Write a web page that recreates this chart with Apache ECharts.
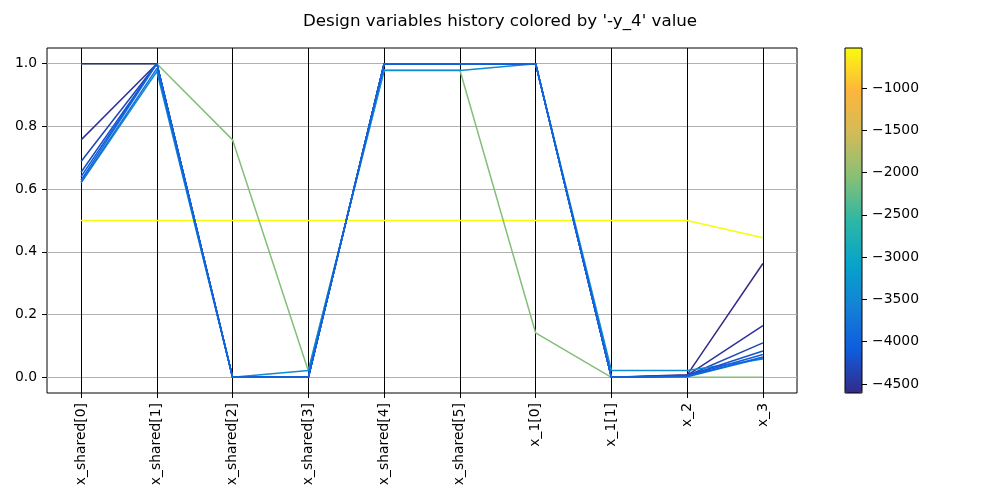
<!DOCTYPE html>
<html>
<head>
<meta charset="utf-8">
<title>Design variables history</title>
<script src="https://cdn.jsdelivr.net/npm/echarts@6/dist/echarts.min.js"></script>
<style>
  html, body { margin: 0; padding: 0; background: #fff; }
  #chart { width: 1000px; height: 500px; }
</style>
</head>
<body>
<div id="chart"></div>
<script>
// design variables (parallel axes)
var variables = ['x_shared[0]', 'x_shared[1]', 'x_shared[2]', 'x_shared[3]', 'x_shared[4]',
  'x_shared[5]', 'x_1[0]', 'x_1[1]', 'x_2', 'x_3'];

// history, one array per iteration
var iter0 = [0.5, 0.5, 0.5, 0.5, 0.5, 0.5, 0.5, 0.5, 0.5, 0.445];
var iter1 = [1.0, 1.0, 0.757, 0.02, 0.98, 0.98, 0.1415, 0.0, 0.0, 0.0];
var iter2 = [1.0, 1.0, 0.0, 0.0, 1.0, 1.0, 1.0, 0.0, 0.008, 0.363];
var iter3 = [0.757, 1.0, 0.0, 0.0, 1.0, 1.0, 1.0, 0.0, 0.006, 0.165];
var iter4 = [0.688, 1.0, 0.0, 0.0, 1.0, 1.0, 1.0, 0.0, 0.005, 0.110];
var iter5 = [0.62, 0.975, 0.0, 0.022, 0.978, 0.978, 1.0, 0.022, 0.022, 0.058];
var iter6 = [0.654, 1.0, 0.0, 0.0, 1.0, 1.0, 1.0, 0.0, 0.005, 0.084];
var iter7 = [0.622, 0.985, 0.0, 0.0, 1.0, 1.0, 1.0, 0.0, 0.002, 0.062];
var iter8 = [0.64, 1.0, 0.0, 0.0, 1.0, 1.0, 1.0, 0.0, 0.004, 0.073];
var iter9 = [0.629, 1.0, 0.0, 0.0, 1.0, 1.0, 1.0, 0.0, 0.003, 0.065];
var iterations = [iter0, iter1, iter2, iter3, iter4, iter5, iter6, iter7, iter8, iter9];

// '-y_4' value of each iteration
var objective = [-527, -2080, -4606, -4500, -4330, -3450, -4200, -3800, -4080, -3990];

var yTicks = [0, 0.2, 0.4, 0.6, 0.8, 1.0];
var cbarTicks = [-4500, -4000, -3500, -3000, -2500, -2000, -1500, -1000];
var cbarMin = -4606, cbarMax = -527;

// parula-like colormap
var cmap = ['#352a87', '#0f5cdd', '#1481d6', '#06a4ca', '#2eb7a4', '#87bf77', '#d1bb59', '#fdb53c', '#f9fb0e'];

var chart = echarts.init(document.getElementById('chart'));

var xIdx = variables.map(function (v, i) { return i; });

var series = iterations.map(function (vals, k) {
  var t = (objective[k] - cbarMin) / (cbarMax - cbarMin);
  return {
    type: 'line',
    xAxisIndex: 0,
    yAxisIndex: 0,
    symbol: 'none',
    silent: true,
    lineStyle: { width: 1.5, color: echarts.color.lerp(t, cmap) },
    data: vals.map(function (v, i) { return [i, v]; })
  };
});
// dummy series for the colorbar
series.push({ type: 'scatter', xAxisIndex: 1, yAxisIndex: 1, data: [] });

var option = {
  animation: false,
  backgroundColor: '#fff',
  textStyle: { fontFamily: 'DejaVu Sans' },
  title: {
    text: "Design variables history colored by '-y_4' value",
    left: 'center',
    top: 8,
    textStyle: { fontFamily: 'DejaVu Sans', fontSize: 16.7, fontWeight: 'normal', color: '#000' }
  },
  grid: [
    { left: 47, top: 48, width: 750, height: 345, show: true, borderColor: '#000', borderWidth: 1, backgroundColor: 'transparent' },
    { left: 845, top: 48, width: 17, height: 345, show: true, borderColor: '#000', borderWidth: 1, backgroundColor: 'transparent', z: 10 }
  ],
  xAxis: [{
    type: 'value',
    gridIndex: 0,
    min: -0.45,
    max: xIdx.length - 1 + 0.45,
    axisLine: { show: false, onZero: false },
    axisTick: { show: true, customValues: xIdx, length: 5, lineStyle: { color: '#000' } },
    axisLabel: {
      customValues: xIdx,
      rotate: 90,
      margin: 10,
      fontSize: 13.9,
      color: '#000',
      formatter: function (v) { return variables[Math.round(v)]; }
    },
    splitLine: { show: true, lineStyle: { color: '#000', width: 1 } }
  }, {
    type: 'value',
    gridIndex: 1,
    show: false
  }],
  yAxis: [{
    type: 'value',
    gridIndex: 0,
    min: -0.05,
    max: 1.05,
    axisLine: { show: false, onZero: false },
    axisTick: { show: true, customValues: yTicks, length: 5, lineStyle: { color: '#000' } },
    axisLabel: {
      customValues: yTicks,
      margin: 10,
      fontSize: 13.9,
      color: '#000',
      formatter: function (v) { return v.toFixed(1); }
    },
    splitLine: { show: true, lineStyle: { color: '#b0b0b0', width: 1 } }
  }, {
    type: 'value',
    gridIndex: 1,
    position: 'right',
    min: cbarMin,
    max: cbarMax,
    axisLine: { show: false, onZero: false },
    axisTick: { show: true, customValues: cbarTicks, length: 5, lineStyle: { color: '#000' } },
    axisLabel: {
      customValues: cbarTicks,
      margin: 10,
      fontSize: 13.9,
      color: '#000',
      formatter: function (v) { return String(v).replace('-', '\u2212'); }
    },
    splitLine: { show: false }
  }],
  visualMap: {
    type: 'continuous',
    seriesIndex: series.length - 1,
    min: cbarMin,
    max: cbarMax,
    calculable: false,
    hoverLink: false,
    left: 845,
    top: 48,
    padding: 0,
    itemWidth: 17,
    itemHeight: 345,
    inRange: { color: cmap }
  },
  series: series
};

chart.setOption(option);
</script>
</body>
</html>
